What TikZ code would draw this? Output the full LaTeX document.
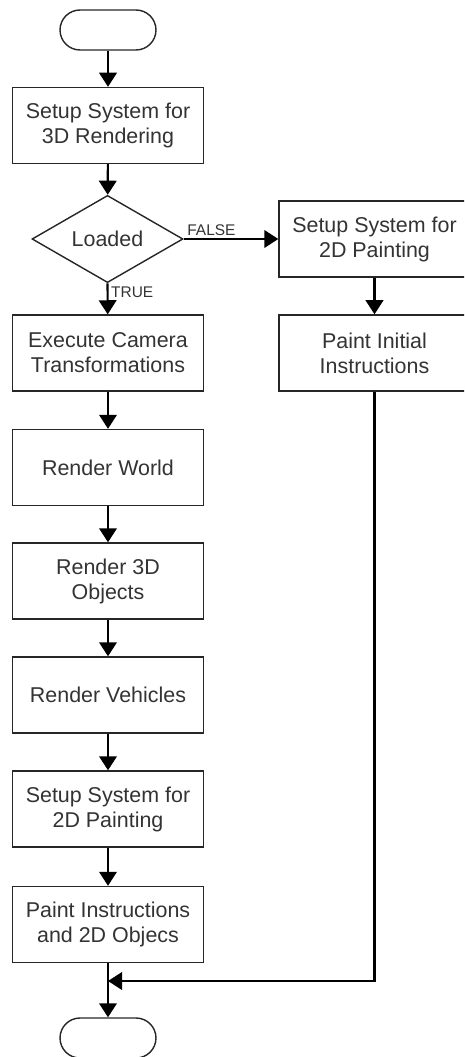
\documentclass[tikz,border=0pt]{standalone}
\usepackage{fontspec}
\setmainfont{Liberation Sans}
\usetikzlibrary{shapes.geometric,arrows.meta}

\tikzset{
  procbox/.style={draw=black!85,line width=0.8pt,minimum width=3.82cm,minimum height=1.52cm,
    inner sep=1pt,align=center,text=black!80,font=\fontsize{12.2pt}{14.2pt}\selectfont},
  termbox/.style={draw=black!85,line width=0.8pt,minimum width=1.92cm,minimum height=0.8cm,
    rounded corners=0.4cm},
  decide/.style={draw=black!85,line width=0.8pt,diamond,minimum width=3.02cm,minimum height=1.48cm,
    inner sep=0pt,text=black!80,font=\fontsize{12.2pt}{14.2pt}\selectfont},
  flow/.style={->,line width=1.2pt},
  flowlabel/.style={inner sep=1.5pt,text=black!80,font=\fontsize{8.8pt}{10pt}\selectfont}
}

\begin{document}
\begin{tikzpicture}[x=0.02cm,y=-0.02cm,line join=miter,>={Triangle[length=8pt,width=10pt]}]
\useasboundingbox (0,0) rectangle (464,1057);
\clip (0,0) rectangle (464,1057);
% main column
\node[termbox] (start) at (108,30) {};
\node[procbox] (setup3d) at (108,125.5) {Setup System for\\3D Rendering};
\node[decide] (loaded) at (107.5,239) {Loaded};
\node[procbox] (camera) at (108,353) {Execute Camera\\Transformations};
\node[procbox] (world) at (108,467.5) {Render World};
\node[procbox] (objects) at (108,581) {Render 3D\\Objects};
\node[procbox] (vehicles) at (108,695) {Render Vehicles};
\node[procbox] (setup2d) at (108,809) {Setup System for\\2D Painting};
\node[procbox] (paint) at (108,924.5) {Paint Instructions\\and 2D Objecs};
\node[termbox] (stop) at (108,1038) {};
% side column
\node[procbox] (setup2dr) at (374.5,239) {Setup System for\\2D Painting};
\node[procbox] (pinit) at (374.5,353) {Paint Initial\\Instructions};
\coordinate (join) at (108,981);
% arrows
\draw[flow] (start) -- (setup3d);
\draw[flow] (setup3d) -- (loaded);
\draw[flow] (loaded.east) -- node[flowlabel,pos=0,above right] {FALSE} (setup2dr.west);
\draw[flow] (loaded.south) -- node[flowlabel,pos=0,below right] {TRUE} (camera);
\draw[flow] (camera) -- (world);
\draw[flow] (world) -- (objects);
\draw[flow] (objects) -- (vehicles);
\draw[flow] (vehicles) -- (setup2d);
\draw[flow] (setup2d) -- (paint);
\draw[flow] (setup2dr) -- (pinit);
\draw[flow] (pinit.south) |- (join);
\draw[flow] (paint) -- (stop);
\end{tikzpicture}
\end{document}
